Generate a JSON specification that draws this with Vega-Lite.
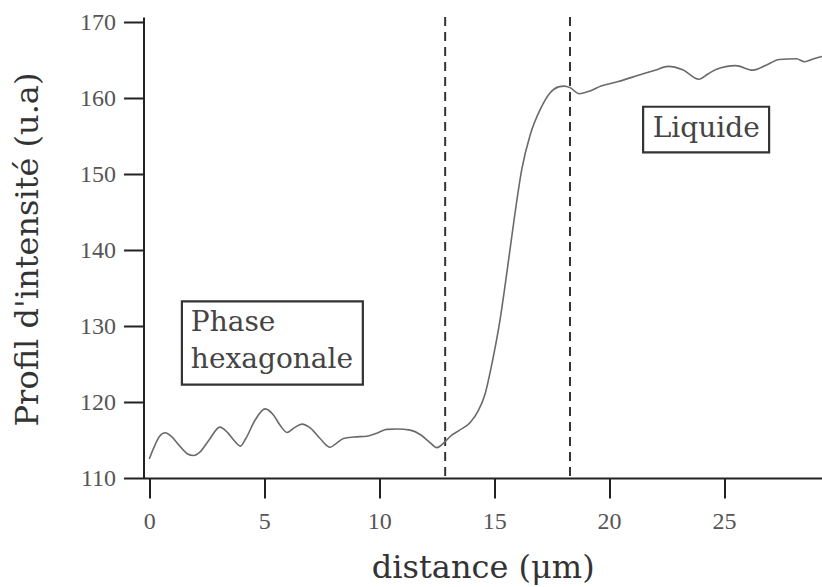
{
  "$schema": "https://vega.github.io/schema/vega-lite/v6.json",
  "width": 678.5,
  "height": 461,
  "autosize": {"type": "none"},
  "padding": {"left": 143.5, "top": 17, "right": 0, "bottom": 109},
  "background": "white",
  "config": {"view": {"stroke": null}},
  "datasets": {
    "profile": [
      {"d": 0.0, "i": 112.5}, {"d": 0.2, "i": 114.0}, {"d": 0.45, "i": 115.5}, {"d": 0.7, "i": 115.95},
      {"d": 0.95, "i": 115.5}, {"d": 1.3, "i": 114.3}, {"d": 1.65, "i": 113.2}, {"d": 1.93, "i": 112.96},
      {"d": 2.2, "i": 113.4}, {"d": 2.6, "i": 115.0}, {"d": 3.07, "i": 116.7}, {"d": 3.4, "i": 116.0},
      {"d": 3.7, "i": 114.9}, {"d": 3.96, "i": 114.2}, {"d": 4.2, "i": 115.2}, {"d": 4.6, "i": 117.6},
      {"d": 5.04, "i": 119.1}, {"d": 5.4, "i": 118.3}, {"d": 5.7, "i": 116.9}, {"d": 5.99, "i": 116.0},
      {"d": 6.3, "i": 116.6}, {"d": 6.64, "i": 117.1}, {"d": 7.0, "i": 116.6}, {"d": 7.4, "i": 115.3},
      {"d": 7.87, "i": 114.05}, {"d": 8.15, "i": 114.6}, {"d": 8.45, "i": 115.2}, {"d": 8.9, "i": 115.4},
      {"d": 9.46, "i": 115.5}, {"d": 9.9, "i": 115.9}, {"d": 10.33, "i": 116.4}, {"d": 10.8, "i": 116.45},
      {"d": 11.35, "i": 116.3}, {"d": 11.8, "i": 115.7}, {"d": 12.2, "i": 114.7}, {"d": 12.5, "i": 114.0},
      {"d": 12.87, "i": 114.8}, {"d": 13.1, "i": 115.5}, {"d": 13.5, "i": 116.3}, {"d": 13.96, "i": 117.3},
      {"d": 14.3, "i": 118.8}, {"d": 14.6, "i": 121.0}, {"d": 14.9, "i": 125.0}, {"d": 15.26, "i": 130.9},
      {"d": 15.57, "i": 137.4}, {"d": 15.9, "i": 144.7}, {"d": 16.2, "i": 150.6}, {"d": 16.57, "i": 155.2},
      {"d": 17.0, "i": 158.5}, {"d": 17.43, "i": 160.7}, {"d": 17.8, "i": 161.5}, {"d": 18.04, "i": 161.6},
      {"d": 18.3, "i": 161.4}, {"d": 18.7, "i": 160.6}, {"d": 19.2, "i": 161.0}, {"d": 19.65, "i": 161.6},
      {"d": 20.4, "i": 162.2}, {"d": 21.35, "i": 163.1}, {"d": 22.0, "i": 163.7}, {"d": 22.57, "i": 164.2},
      {"d": 23.2, "i": 163.75}, {"d": 23.9, "i": 162.5}, {"d": 24.3, "i": 163.2}, {"d": 24.65, "i": 163.8},
      {"d": 25.5, "i": 164.3}, {"d": 26.26, "i": 163.7}, {"d": 26.8, "i": 164.3}, {"d": 27.4, "i": 165.1},
      {"d": 28.15, "i": 165.2}, {"d": 28.5, "i": 164.8}, {"d": 28.9, "i": 165.2}, {"d": 29.26, "i": 165.5}
    ],
    "bounds": [{"d": 12.87}, {"d": 18.3}],
    "labels": [
      {"label": "Liquide", "x": 21.48, "x2": 26.96, "y": 158.88, "y2": 152.87, "tx": 21.9, "ty": 154.9, "lines": ["Liquide"]},
      {"label": "Phase hexagonale", "x": 1.42, "x2": 9.29, "y": 133.26, "y2": 122.3, "tx": 1.81, "ty": 129.32, "lines": ["Phase", "hexagonale"]}
    ]
  },
  "encoding": {
    "x": {
      "type": "quantitative",
      "scale": {"domain": [-0.25, 29.26], "nice": false, "zero": false},
      "axis": {
        "values": [0, 5, 10, 15, 20, 25],
        "title": "distance (μm)",
        "grid": false,
        "domainColor": "#222", "domainWidth": 2,
        "tickColor": "#222", "tickWidth": 2, "tickSize": 20,
        "labelFont": "Liberation Serif", "labelFontSize": 24, "labelColor": "#555", "labelPadding": 11,
        "titleFont": "DejaVu Serif", "titleFontSize": 32, "titleFontWeight": "normal", "titleColor": "#333",
        "titleBaseline": "alphabetic", "titleY": 99
      }
    },
    "y": {
      "type": "quantitative",
      "scale": {"domain": [110, 170.7], "nice": false, "zero": false},
      "axis": {
        "values": [110, 120, 130, 140, 150, 160, 170],
        "title": "Profil d'intensité (u.a)",
        "grid": false,
        "domainColor": "#222", "domainWidth": 2,
        "tickColor": "#222", "tickWidth": 2, "tickSize": 20,
        "labelFont": "Liberation Serif", "labelFontSize": 24, "labelColor": "#555", "labelPadding": 8,
        "titleFont": "DejaVu Serif", "titleFontSize": 32, "titleFontWeight": "normal", "titleColor": "#333",
        "titleBaseline": "alphabetic", "titleAngle": -90, "titleAlign": "center", "titleX": -106, "titleY": 232
      }
    }
  },
  "layer": [
    {
      "mark": {"type": "rule", "color": "#222", "strokeWidth": 2},
      "encoding": {"y": {"datum": 170.7, "type": "quantitative"}}
    },
    {
      "data": {"name": "bounds"},
      "mark": {"type": "rule", "color": "#333", "strokeWidth": 2, "strokeDash": [9, 6]},
      "encoding": {"x": {"field": "d", "type": "quantitative"}}
    },
    {
      "data": {"name": "profile"},
      "mark": {"type": "line", "color": "#6a6a6a", "strokeWidth": 1.6, "interpolate": "monotone", "clip": true},
      "encoding": {
        "x": {"field": "d", "type": "quantitative"},
        "y": {"field": "i", "type": "quantitative"}
      }
    },
    {
      "data": {"name": "labels"},
      "mark": {"type": "rect", "fill": "white", "stroke": "#333", "strokeWidth": 2.2},
      "encoding": {
        "x": {"field": "x", "type": "quantitative"},
        "x2": {"field": "x2"},
        "y": {"field": "y", "type": "quantitative"},
        "y2": {"field": "y2"}
      }
    },
    {
      "data": {"name": "labels"},
      "mark": {"type": "text", "font": "DejaVu Serif", "fontSize": 28, "color": "#444", "align": "left", "baseline": "alphabetic", "lineHeight": 36.6},
      "encoding": {
        "x": {"field": "tx", "type": "quantitative"},
        "y": {"field": "ty", "type": "quantitative"},
        "text": {"field": "lines"}
      }
    }
  ]
}
